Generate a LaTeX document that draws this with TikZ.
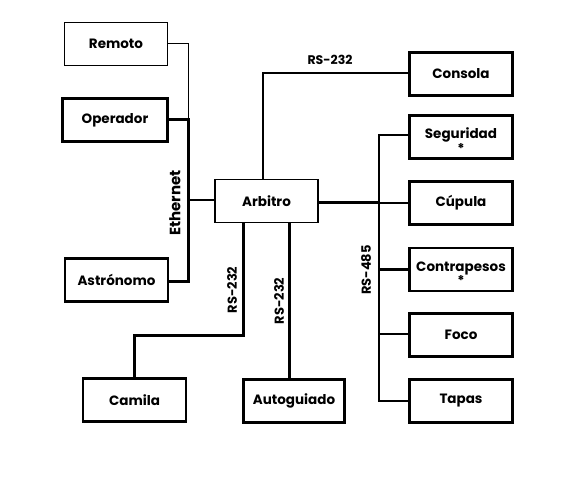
\documentclass[tikz,border=0pt]{standalone}
\usepackage{fontspec}
\setmainfont{Poppins}
\begin{document}
\begin{tikzpicture}[x=1pt,y=-1pt,
  box/.style={draw,line width=2.2pt,minimum width=103pt,minimum height=43pt,inner sep=0pt,font=\fontsize{13.5}{13}\selectfont\bfseries},
  thinbox/.style={box,line width=1pt},
  wire/.style={line width=2pt},
  thickwire/.style={line width=3pt},
  thinwire/.style={line width=1pt},
  lbl/.style={font=\fontsize{13}{14}\selectfont\bfseries,inner sep=1pt}]
\useasboundingbox (0,0) rectangle (570,489);
\node[thinbox] (remoto) at (116,44) {Remoto};
\node[box,minimum width=105pt] (operador) at (115,120) {Operador};
\node[box] (astronomo) at (116.5,280) {Astrónomo};
\node[box,line width=1.6pt] (arbitro) at (266.5,201) {Arbitro};
\node[box] (consola) at (461,74) {Consola};
\node[box,align=center] (seguridad) at (461,137) {\rule{0pt}{18pt}Seguridad\\[1pt]*};
\node[box] (cupula) at (461,203) {Cúpula};
\node[box,align=center] (contrapesos) at (461,269.5) {\rule{0pt}{18pt}Contrapesos\\[0pt]*};
\node[box] (foco) at (461,335) {Foco};
\node[box] (tapas) at (461,401) {Tapas};
\node[box] (camila) at (134.5,400) {Camila};
\node[box,minimum width=101pt] (autoguiado) at (294,401) {Autoguiado};
% Ethernet bus
\coordinate (eth) at (188,120);
\draw[thinwire] (remoto.east) -| (eth);
\draw[thickwire] (operador.east) -- (eth) -- (188,281) coordinate (ethb) -- (astronomo.east |- ethb);
\draw[wire] (188,200) coordinate (etha) -- (arbitro.west |- etha);
\node[lbl,rotate=90,font=\fontsize{15}{16}\selectfont\bfseries] (ethl) at (175,203) {Ethernet};
% RS-232 to Consola
\draw[wire] (263,180) coordinate (a1) -- (263,73) coordinate (a2) -- (consola.west |- a2);
\node[lbl,font=\fontsize{12.5}{13}\selectfont\bfseries] (rs1) at (330,60) {RS-232};
% RS-485 bus
\coordinate (r0) at (379,135);
\draw[thickwire] (arbitro.east |- 0,203) -- (379,203) coordinate (rm);
\draw[wire] (seguridad.west |- r0) -- (r0) |- (tapas.west);
\draw[wire] (rm) -- (cupula.west);
\draw[thickwire] (379,269) -- (contrapesos.west |- 0,269);
\draw[wire] (379,334) -- (foco.west |- 0,334);
\node[lbl,rotate=90] (rs485) at (366,270) {RS-485};
% Camila
\draw[thickwire] (243,222) coordinate (c0) -- (243,335) -| (camila.north);
\node[lbl,rotate=90] (rs2) at (232,290) {RS-232};
% Autoguiado
\draw[thickwire] (289,222) -- (289,380);
\node[lbl,rotate=90] (rs3) at (279,301) {RS-232};
\end{tikzpicture}
\end{document}
